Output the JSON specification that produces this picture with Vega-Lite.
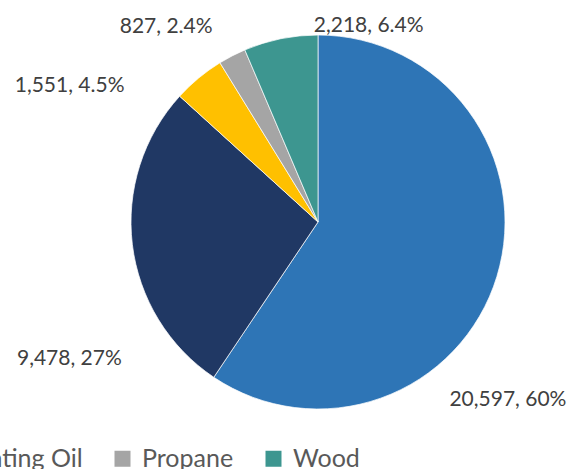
{
  "$schema": "https://vega.github.io/schema/vega-lite/v6.json",
  "width": 500,
  "height": 444,
  "autosize": {"type": "none"},
  "padding": {"left": 68, "top": 0, "right": 0, "bottom": 25},
  "background": "white",
  "config": {"view": {"stroke": null}, "font": "Lato"},
  "data": {
    "values": [
      {"cat": "Natural Gas", "value": 20597, "rank": 1, "label": "20,597, 60%"},
      {"cat": "Electricity", "value": 9478, "rank": 2, "label": "9,478, 27%"},
      {"cat": "Heating Oil", "value": 1551, "rank": 3, "label": "1,551, 4.5%"},
      {"cat": "Propane", "value": 827, "rank": 4, "label": "827, 2.4%"},
      {"cat": "Wood", "value": 2218, "rank": 5, "label": "2,218, 6.4%"}
    ]
  },
  "encoding": {
    "theta": {"field": "value", "type": "quantitative", "stack": true},
    "order": {"field": "rank", "type": "quantitative"}
  },
  "layer": [
    {
      "mark": {"type": "arc", "outerRadius": 187, "stroke": "white", "strokeWidth": 0.7},
      "encoding": {
        "color": {
          "field": "cat",
          "type": "nominal",
          "sort": ["Natural Gas", "Electricity", "Heating Oil", "Propane", "Wood"],
          "scale": {
            "domain": ["Natural Gas", "Electricity", "Heating Oil", "Propane", "Wood"],
            "range": ["#2E75B6", "#203864", "#FFC000", "#A5A5A5", "#3D9690"]
          },
          "legend": {
            "orient": "none",
            "legendX": -499,
            "legendY": 446,
            "direction": "horizontal",
            "title": null,
            "padding": 0,
            "symbolType": "square",
            "symbolSize": 256,
            "symbolStrokeWidth": 0,
            "labelFont": "Lato",
            "labelFontSize": 25,
            "labelColor": "#595959",
            "labelOffset": 7,
            "labelLimit": 0,
            "columnPadding": 27
          }
        }
      }
    },
    {
      "mark": {"type": "text", "radius": 187, "dx": 11, "dy": 130, "align": "center", "baseline": "alphabetic", "fontSize": 21, "fill": "#404040"},
      "encoding": {
        "detail": {"field": "cat"},
        "text": {"condition": {"test": "datum.cat === 'Natural Gas'", "field": "label"}, "value": ""}
      }
    },
    {
      "mark": {"type": "text", "radius": 187, "dx": -63, "dy": 120, "align": "center", "baseline": "alphabetic", "fontSize": 21, "fill": "#404040"},
      "encoding": {
        "detail": {"field": "cat"},
        "text": {"condition": {"test": "datum.cat === 'Electricity'", "field": "label"}, "value": ""}
      }
    },
    {
      "mark": {"type": "text", "radius": 187, "dx": -129, "dy": 14, "align": "center", "baseline": "alphabetic", "fontSize": 21, "fill": "#404040"},
      "encoding": {
        "detail": {"field": "cat"},
        "text": {"condition": {"test": "datum.cat === 'Heating Oil'", "field": "label"}, "value": ""}
      }
    },
    {
      "mark": {"type": "text", "radius": 187, "dx": -66, "dy": -23, "align": "center", "baseline": "alphabetic", "fontSize": 21, "fill": "#404040"},
      "encoding": {
        "detail": {"field": "cat"},
        "text": {"condition": {"test": "datum.cat === 'Propane'", "field": "label"}, "value": ""}
      }
    },
    {
      "mark": {"type": "text", "radius": 187, "dx": 88, "dy": -7, "align": "center", "baseline": "alphabetic", "fontSize": 21, "fill": "#404040"},
      "encoding": {
        "detail": {"field": "cat"},
        "text": {"condition": {"test": "datum.cat === 'Wood'", "field": "label"}, "value": ""}
      }
    }
  ]
}
